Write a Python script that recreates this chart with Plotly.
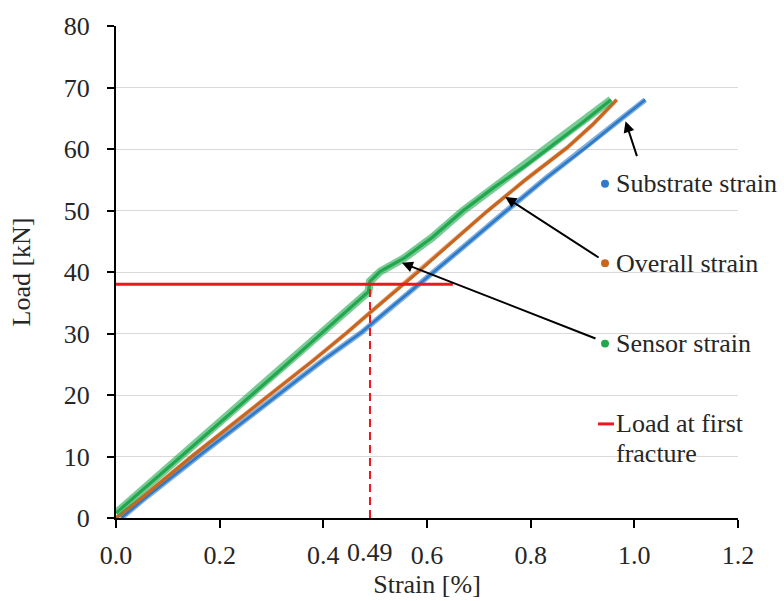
import plotly.graph_objects as go

# Load-strain curves of the instrumented specimen
substrate_strain = [0.010, 0.060, 0.158, 0.250, 0.329, 0.400, 0.474, 0.520, 0.606,
                    0.680, 0.751, 0.830, 0.909, 0.970, 1.021]
substrate_load = [0.0, 3.5, 10.0, 16.0, 21.0, 25.7, 30.2, 33.5, 39.5,
                  44.8, 49.8, 55.3, 60.4, 64.6, 68.0]

overall_strain = [0.000, 0.050, 0.146, 0.230, 0.307, 0.380, 0.445, 0.490, 0.580,
                  0.650, 0.715, 0.790, 0.870, 0.920, 0.966]
overall_load = [0.0, 3.3, 10.0, 15.6, 20.6, 25.6, 30.1, 33.4, 39.8,
                45.0, 49.8, 55.0, 60.2, 64.0, 68.0]

sensor_strain = [0.000, 0.030, 0.070, 0.126, 0.170, 0.220, 0.271, 0.320, 0.368, 0.420,
                 0.487, 0.490, 0.510, 0.555, 0.610, 0.670, 0.730, 0.790, 0.840,
                 0.900, 0.955]
sensor_load = [0.8, 3.0, 6.0, 10.0, 13.3, 17.0, 20.6, 24.3, 27.9, 31.8,
               36.8, 38.5, 40.1, 42.2, 45.6, 50.0, 53.8, 57.3, 60.5,
               64.3, 68.0]

# First fracture of the sensor
fracture_strain = 0.49
fracture_load = 38.0
fracture_line_end = 0.65

x_ticks = [0.0, 0.2, 0.4, 0.6, 0.8, 1.0, 1.2]
x_tick_text = ["0.0", "0.2", "0.4", "0.6", "0.8", "1.0", "1.2"]
y_ticks = [0, 10, 20, 30, 40, 50, 60, 70, 80]

series_names = ["Substrate strain", "Overall strain", "Sensor strain", "Load at first", "fracture"]

BLUE = "#2C7AC8"
ORANGE = "#C8661F"
GREEN = "#21A84E"
RED = "#F0141E"
TEXT = "#262626"
FONT = "Liberation Serif, Times New Roman, serif"
FS = 26

fig = go.Figure()


def band(x, y, color, halo, core, halo_opacity):
    # scattered measurement cloud: translucent halo with a solid core
    fig.add_trace(go.Scatter(x=x, y=y, mode="lines", opacity=halo_opacity,
                             line=dict(color=color, width=halo), showlegend=False,
                             hoverinfo="skip"))
    fig.add_trace(go.Scatter(x=x, y=y, mode="lines",
                             line=dict(color=color, width=core), showlegend=False))


band(substrate_strain, substrate_load, BLUE, 5.5, 2.6, 0.6)
band(overall_strain, overall_load, ORANGE, 4.2, 3, 0.55)
band(sensor_strain, sensor_load, GREEN, 8, 3.2, 0.6)

# Load at first fracture: horizontal level and dashed strain marker
fig.add_trace(go.Scatter(x=[0, fracture_line_end], y=[fracture_load, fracture_load],
                         mode="lines", line=dict(color=RED, width=3), showlegend=False))
fig.add_trace(go.Scatter(x=[fracture_strain, fracture_strain], y=[0, fracture_load],
                         mode="lines", line=dict(color=RED, width=2, dash="8px,5px"),
                         showlegend=False))

# plot area in pixels: x 116..738, y 16..518
L, R, T, B = 116, 738, 16, 518


def px(x):
    return (x - L) / (R - L)


def py(y):
    return (B - y) / (B - T)


annotations = []
shapes = []

# legend keys and labels placed beside the curves
text_x = px(614)
for name, color, ypix in [(series_names[0], BLUE, 177),
                          (series_names[1], ORANGE, 258),
                          (series_names[2], GREEN, 340)]:
    shapes.append(dict(type="circle", xref="paper", yref="paper",
                       x0=px(601), x1=px(609), y0=py(ypix + 4), y1=py(ypix - 4),
                       fillcolor=color, line=dict(width=0)))
    annotations.append(dict(text=name, x=text_x, y=py(ypix), xref="paper", yref="paper",
                            xanchor="left", yanchor="middle", showarrow=False,
                            font=dict(family=FONT, size=FS, color=TEXT)))

shapes.append(dict(type="line", xref="paper", yref="paper",
                   x0=px(598), x1=px(614), y0=py(422), y1=py(422),
                   line=dict(color=RED, width=3)))
annotations.append(dict(text=series_names[3], x=text_x, y=py(422), xref="paper", yref="paper",
                        xanchor="left", yanchor="middle", showarrow=False,
                        font=dict(family=FONT, size=FS, color=TEXT)))
annotations.append(dict(text=series_names[4], x=text_x, y=py(452), xref="paper", yref="paper",
                        xanchor="left", yanchor="middle", showarrow=False,
                        font=dict(family=FONT, size=FS, color=TEXT)))

# pointer arrows from labels to curves (head, tail) in data units
arrows = [((0.983, 64.5), (1.006, 58.6)),
          ((0.751, 52.2), (0.934, 42.2)),
          ((0.5515, 41.5), (0.928, 29.1))]
for (hx, hy), (tx, ty) in arrows:
    annotations.append(dict(text="", x=hx, y=hy, ax=tx, ay=ty, xref="x", yref="y",
                            axref="x", ayref="y", showarrow=True, arrowhead=2,
                            arrowsize=1.1, arrowwidth=2, arrowcolor="black", standoff=0))

# extra strain label at the fracture point
annotations.append(dict(text=f"{fracture_strain:.2f}", x=fracture_strain, y=0, xref="x", yref="paper",
                        xanchor="center", yanchor="top", yshift=-18, showarrow=False,
                        font=dict(family=FONT, size=FS, color=TEXT)))

fig.update_layout(
    width=784, height=601,
    margin=dict(l=L, r=784 - R, t=T, b=601 - B, pad=0),
    paper_bgcolor="white", plot_bgcolor="white",
    font=dict(family=FONT, size=FS, color=TEXT),
    showlegend=False,
    shapes=shapes,
    annotations=annotations,
)

fig.update_xaxes(range=[0, 1.2], tickvals=x_ticks, ticktext=x_tick_text,
                 showgrid=False, zeroline=False, showline=True, linecolor="black", linewidth=2,
                 ticks="outside", ticklen=8, tickwidth=2, tickcolor="black",
                 ticklabelstandoff=5,
                 tickfont=dict(family=FONT, size=FS, color=TEXT),
                 title=dict(text="Strain [%]", standoff=0,
                            font=dict(family=FONT, size=FS, color=TEXT)))
fig.update_yaxes(range=[0, 80], tickvals=y_ticks,
                 showgrid=True, gridcolor="#D9D9D9", gridwidth=1,
                 zeroline=False, showline=True, linecolor="black", linewidth=2,
                 ticks="outside", ticklen=7, tickwidth=2, tickcolor="black",
                 ticklabelstandoff=12,
                 tickfont=dict(family=FONT, size=FS, color=TEXT),
                 title=dict(text="Load [kN]", standoff=26,
                            font=dict(family=FONT, size=FS, color=TEXT)))

fig.write_html("out.html")
